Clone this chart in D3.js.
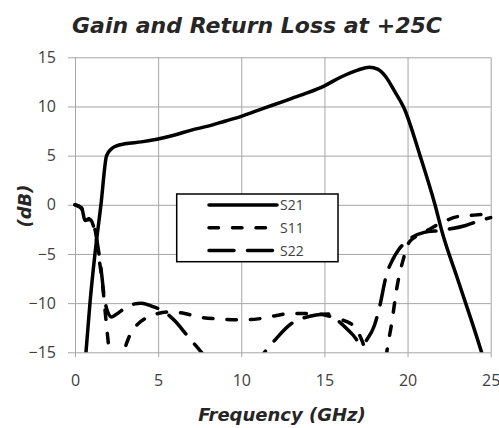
<!DOCTYPE html>
<html>
<head>
<meta charset="utf-8">
<script src="https://cdnjs.cloudflare.com/ajax/libs/d3/7.8.5/d3.min.js"></script>
<style>
  body { margin: 0; background: #fff; }
  svg { display: block; }
  .tick text { font-family: "Open Sans", sans-serif; fill: #404040; }
</style>
</head>
<body>
<div id="chart"></div>
<script>
// ticks
var xTicks = [0, 5, 10, 15, 20, 25];
var yTicks = [-15, -10, -5, 0, 5, 10, 15];
var seriesNames = ["S21", "S11", "S22"];

// S21 gain [GHz, dB]
var s21 = [[0.5,-18],[0.66,-15],[0.9,-10],[1.2,-5],[1.56,0],[1.9,5],[2.2,5.7],[2.5,6.0],[3,6.2],[4,6.4],
  [5,6.7],[6,7.1],[7,7.6],[8,8.0],[9,8.5],[10,9.0],[11,9.6],[12,10.2],[13,10.8],[14,11.4],[15,12.1],
  [16,13.0],[17,13.7],[17.7,14.0],[18.2,13.8],[18.7,13.0],[19.2,11.6],[19.8,9.8],[20.75,5],[21.65,0],
  [22.1,-2.9],[23,-7.5],[24.45,-15],[24.8,-17]];

// S11 input return loss
var s11 = [[0,0],[0.4,-0.4],[0.6,-1.6],[0.9,-1.5],[1.2,-2.8],[1.45,-5.5],[1.65,-8],[1.85,-11.5],[2.0,-14],
  [2.2,-16.5],[2.6,-17],[3.1,-14.1],[3.4,-12.9],[3.8,-12.1],[4.4,-11.4],[5,-11.05],[5.7,-10.9],[6.6,-11.05],
  [7.4,-11.4],[8.5,-11.6],[10,-11.7],[11,-11.6],[12,-11.3],[13,-11.05],[14,-11.05],[15,-11.2],[15.7,-11.55],
  [16.6,-12.1],[17.3,-14],[17.8,-17],[18.3,-19],[18.6,-17],[18.75,-15],[19.05,-12],[19.35,-8.5],
  [19.75,-5.5],[20.1,-3.8],[20.9,-2.9],[21.5,-2.3],[22.2,-1.7],[23,-1.2],[24,-1.05],[25,-0.9]];

// S22 output return loss
var s22 = [[0,0],[0.4,-0.3],[0.6,-1.6],[0.9,-1.4],[1.2,-2.5],[1.4,-4.5],[1.6,-7],[1.75,-9.3],[1.95,-10.8],
  [2.2,-11.4],[2.6,-11],[3.2,-10.3],[4,-10.0],[4.6,-10.3],[5.4,-10.9],[6,-11.8],[6.7,-13.2],[7.2,-14.2],
  [7.7,-15.2],[8.5,-17],[9.5,-18],[10.5,-17.3],[11.4,-15],[12,-13.8],[13,-12.1],[13.6,-11.6],[14.5,-11.2],
  [15.3,-11.1],[15.9,-11.9],[16.7,-13.2],[17.25,-14.2],[17.6,-13.6],[18.0,-12.3],[18.3,-10.5],[18.75,-7.0],
  [19.1,-5.6],[19.45,-4.6],[19.95,-3.7],[21,-2.8],[22,-2.6],[23.5,-2.1],[24.35,-1.6],[25,-1.3]];

var series = [s21, s11, s22];
var dashes = [null, "9.5,14", "25,13.5"];

var W = 499, H = 428;
var pLeft = 75, pRight = 490.7, pTop = 57.3, pBottom = 352.3;

var svg = d3.select("#chart").append("svg")
  .attr("width", W)
  .attr("height", H);

var x = d3.scaleLinear().domain([0, 25]).range([pLeft, pRight]);
var y = d3.scaleLinear().domain([-15, 15]).range([pBottom, pTop]);

// grid + y axis (ticks stick out 7px on the left)
var yAxis = svg.append("g")
  .attr("transform", "translate(" + (pLeft - 7) + ",0)")
  .call(d3.axisLeft(y).tickValues(yTicks).tickSize(-(pRight - pLeft + 7)).tickPadding(12));
yAxis.select(".domain").remove();
yAxis.selectAll(".tick line").attr("stroke", "#a6a6a6");
yAxis.selectAll(".tick text").style("font-size", "16px");

// grid + x axis (ticks stick out 5px below)
var xAxis = svg.append("g")
  .attr("transform", "translate(0," + (pBottom + 5) + ")")
  .call(d3.axisBottom(x).tickValues(xTicks).tickSize(-(pBottom - pTop + 5)).tickPadding(17));
xAxis.select(".domain").remove();
xAxis.selectAll(".tick line").attr("stroke", "#a6a6a6");
xAxis.selectAll(".tick text").style("font-size", "16px");

svg.append("clipPath").attr("id", "clip")
  .append("rect")
  .attr("x", pLeft - 4).attr("y", pTop - 4)
  .attr("width", pRight - pLeft + 10).attr("height", pBottom - pTop + 4);

var line = d3.line()
  .x(function (d) { return x(d[0]); })
  .y(function (d) { return y(d[1]); })
  .curve(d3.curveMonotoneX);

svg.append("g").attr("clip-path", "url(#clip)")
  .selectAll("path")
  .data(series)
  .enter().append("path")
  .attr("d", line)
  .attr("fill", "none")
  .attr("stroke", "#000")
  .attr("stroke-width", 3.5)
  .attr("stroke-linecap", "round")
  .attr("stroke-dasharray", function (d, i) { return dashes[i]; });

// legend
var lg = svg.append("g");
lg.append("rect")
  .attr("x", 176.7).attr("y", 194)
  .attr("width", 161.3).attr("height", 67.7)
  .attr("fill", "#fff").attr("stroke", "#000").attr("stroke-width", 1.5);
seriesNames.forEach(function (name, i) {
  var ly = 205 + i * 22.8;
  lg.append("line")
    .attr("x1", 209).attr("x2", 277)
    .attr("y1", ly).attr("y2", ly)
    .attr("stroke", "#000").attr("stroke-width", 3.5)
    .attr("stroke-linecap", "round")
    .attr("stroke-dasharray", dashes[i]);
  lg.append("text")
    .attr("x", 280).attr("y", ly + 5)
    .style("font-family", "'Open Sans', sans-serif")
    .style("font-size", "14px")
    .attr("fill", "#404040")
    .text(name);
});

// titles
svg.append("text")
  .attr("x", 257).attr("y", 33)
  .attr("text-anchor", "middle")
  .style("font-family", "'DejaVu Sans', sans-serif")
  .style("font-weight", "bold").style("font-style", "italic")
  .style("font-size", "22px")
  .attr("fill", "#262626")
  .text("Gain and Return Loss at +25C");

svg.append("text")
  .attr("x", 282).attr("y", 421)
  .attr("text-anchor", "middle")
  .style("font-family", "'DejaVu Sans', sans-serif")
  .style("font-weight", "bold").style("font-style", "italic")
  .style("font-size", "18px")
  .attr("fill", "#262626")
  .text("Frequency (GHz)");

svg.append("text")
  .attr("transform", "translate(31,206) rotate(-90)")
  .attr("text-anchor", "middle")
  .style("font-family", "'DejaVu Sans', sans-serif")
  .style("font-weight", "bold").style("font-style", "italic")
  .style("font-size", "18px")
  .attr("fill", "#262626")
  .text("(dB)");
</script>
</body>
</html>
